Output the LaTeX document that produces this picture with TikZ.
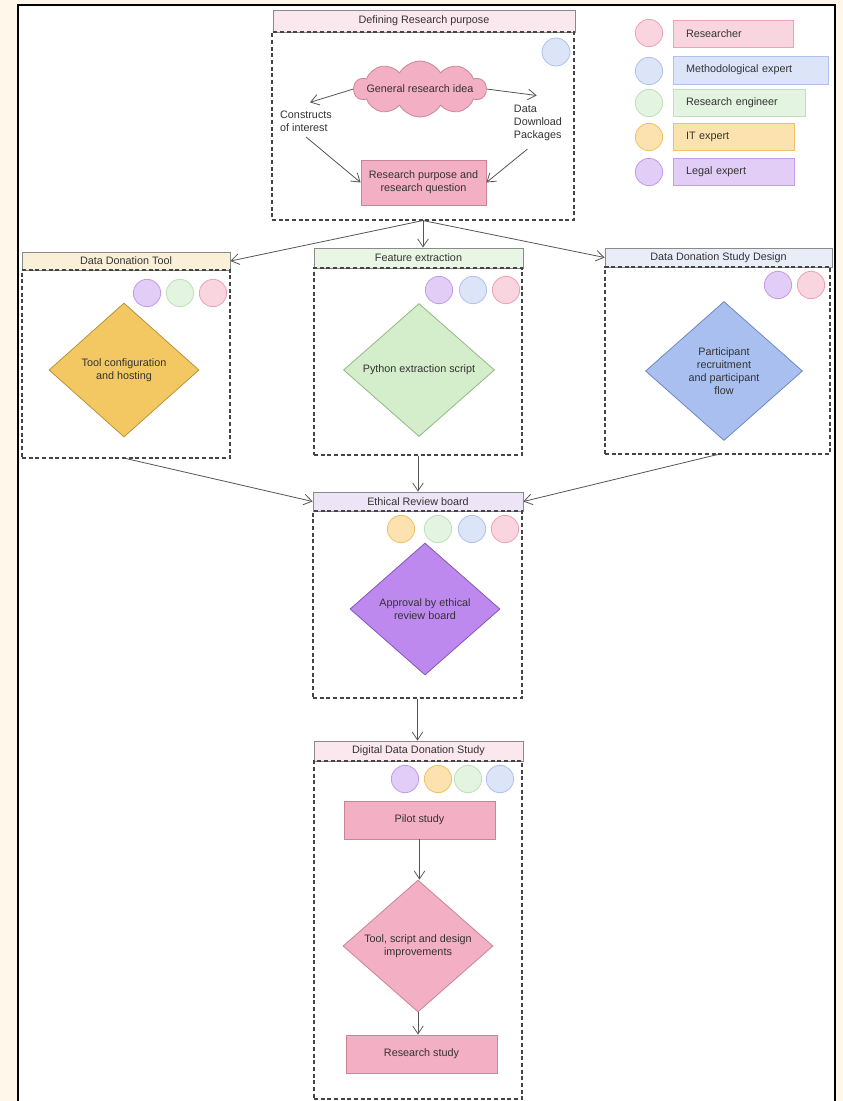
\documentclass[tikz,border=0pt]{standalone}
\usepackage{fontspec}
\setmainfont{Liberation Sans}
\usetikzlibrary{shapes.geometric,shapes.symbols,arrows.meta}
\definecolor{cream}{HTML}{FFF8EA}
\definecolor{txt}{HTML}{333333}
\definecolor{lnk}{HTML}{555555}
\definecolor{dashc}{HTML}{444444}
\definecolor{tborder}{HTML}{8A8A8A}
% role colours
\definecolor{rpinkF}{HTML}{F9D5DF}\definecolor{rpinkD}{HTML}{EDA2B7}
\definecolor{rblueF}{HTML}{DCE4F8}\definecolor{rblueD}{HTML}{AFC2EE}
\definecolor{rgreenF}{HTML}{E3F4E1}\definecolor{rgreenD}{HTML}{BDE2B9}
\definecolor{rorangeF}{HTML}{FBE2AF}\definecolor{rorangeD}{HTML}{EEC266}
\definecolor{rpurpleF}{HTML}{E2CDF6}\definecolor{rpurpleD}{HTML}{C59CEA}
% title fills
\definecolor{tpink}{HTML}{FBE7EE}
\definecolor{ttan}{HTML}{FAF0D8}
\definecolor{tgreen}{HTML}{E9F5E5}
\definecolor{tblue}{HTML}{E8EDF8}
\definecolor{tpurple}{HTML}{EEE4F8}
% main shapes
\definecolor{mpink}{HTML}{F3AFC3}\definecolor{mpinkD}{HTML}{C98597}
\definecolor{mgold}{HTML}{F3C862}\definecolor{mgoldD}{HTML}{B89339}
\definecolor{mgreen}{HTML}{D4EDCB}\definecolor{mgreenD}{HTML}{8FBC80}
\definecolor{mblue}{HTML}{A9BFF0}\definecolor{mblueD}{HTML}{6F88C2}
\definecolor{mpurple}{HTML}{BE89EE}\definecolor{mpurpleD}{HTML}{8457B5}
\tikzset{
  sz/.style 2 args={minimum width={#1*0.75pt},minimum height={#2*0.75pt}},
  every node/.style={font=\fontsize{8.1}{9.8}\selectfont, text=txt},
  titlebox/.style={draw=tborder, line width=0.6pt, inner sep=0pt, rectangle},
  panel/.style={draw=dashc, line width=0.8pt, dash pattern=on 3pt off 2pt, inner sep=0pt, rectangle},
  role/.style={circle, draw=#1D, fill=#1F, line width=0.6pt, minimum size=20.5pt, inner sep=0pt},
  legbox/.style={rectangle, draw=#1D, fill=#1F, line width=0.6pt, align=left, inner xsep=9.75pt, inner ysep=0pt},
  dia/.style={diamond, draw=#1D, fill=#1, line width=0.6pt, inner sep=0pt, align=center},
  pbox/.style={rectangle, draw=mpinkD, fill=mpink, line width=0.6pt, inner sep=0pt, align=center},
  link/.style={draw=lnk, line width=0.6pt, -{Straight Barb[length=6pt,width=8pt]}},
}
\begin{document}
\begin{tikzpicture}[x=0.75pt,y=-0.75pt]
\useasboundingbox (0,0) rectangle (843,1101);
\fill[cream] (0,0) rectangle (843,1101);
\begin{scope}
\clip (0,0) rectangle (843,1101);
\draw[fill=white, line width=1.5pt] (17.5,4.5) rectangle (835,1120);
\end{scope}

% ---------- Defining research purpose ----------
\node[titlebox, fill=tpink, sz={302}{22}] (deftitle) at (424,21) {Defining Research purpose};
\node[panel, sz={302}{188}] (defbox) at (423,126) {};
\node[role=rblue, minimum size=21pt] (defblue) at (556,52) {};
\node[cloud, cloud puffs=10, cloud puff arc=120, cloud ignores aspect, draw=mpinkD, fill=mpink, line width=0.6pt, inner sep=0pt, minimum width=99pt, minimum height=42pt,
  label={[text=txt]center:General research idea}] (idea) at (420,89) {};
\node[align=left, inner sep=0pt] (cons) at (306,121) {Constructs\\of interest};
\node[align=left, inner sep=0pt] (ddp) at (538,123) {Data\\Download\\Packages};
\node[pbox, sz={125}{45}] (rp) at (423.5,182.5) {Research purpose and\\research question};
\draw[link] (idea.west) -- ([xshift=3pt,yshift=6pt]cons.north);
\draw[link] (idea.east) -- ([xshift=-1pt,yshift=7pt]ddp.north);
\draw[link] ([yshift=-4pt]cons.south) -- (rp.west);
\draw[link] ([xshift=-8pt,yshift=-6pt]ddp.south) -- (rp.east);

% ---------- Legend ----------
\node[role=rpink] (l1c) at (649,33) {};
\node[role=rblue] (l2c) at (649,71) {};
\node[role=rgreen] (l3c) at (649,103) {};
\node[role=rorange] (l4c) at (649,137) {};
\node[role=rpurple] (l5c) at (649,172) {};
\node[legbox=rpink, text width={94*0.75pt}, minimum height={27*0.75pt}] (l1) at (733,33.5) {Researcher};
\node[legbox=rblue, text width={129*0.75pt}, minimum height={28*0.75pt}] (l2) at (750.5,70) {Methodological expert};
\node[legbox=rgreen, text width={106*0.75pt}, minimum height={27*0.75pt}] (l3) at (739,102.5) {Research engineer};
\node[legbox=rorange, text width={95*0.75pt}, minimum height={27*0.75pt}] (l4) at (733.5,136.5) {IT expert};
\node[legbox=rpurple, text width={95*0.75pt}, minimum height={27*0.75pt}] (l5) at (733.5,171.5) {Legal expert};

% ---------- Data Donation Tool ----------
\node[titlebox, fill=ttan, sz={208}{18}] (ddttitle) at (126,261) {Data Donation Tool};
\node[panel, sz={208}{188}] (ddtbox) at (126,364) {};
\node[role=rpurple] (ddtc1) at (147,293) {};
\node[role=rgreen] (ddtc2) at (180,293) {};
\node[role=rpink] (ddtc3) at (213,293) {};
\node[dia=mgold, sz={150}{134}] (tool) at (124,370) {Tool configuration\\and hosting};

% ---------- Feature extraction ----------
\node[titlebox, fill=tgreen, sz={209}{20}] (fetitle) at (418.5,258) {Feature extraction};
\node[panel, sz={208}{187}] (febox) at (418,361.5) {};
\node[role=rpurple] (fec1) at (439,290) {};
\node[role=rblue] (fec2) at (473,290) {};
\node[role=rpink] (fec3) at (506,290) {};
\node[dia=mgreen, sz={151}{133}] (py) at (419,370) {Python extraction script};

% ---------- Data Donation Study Design ----------
\node[titlebox, fill=tblue, sz={227}{19}] (sdtitle) at (718.5,257.5) {Data Donation Study Design};
\node[panel, sz={225}{187}] (sdbox) at (717.5,360.5) {};
\node[role=rpurple] (sdc1) at (778,285) {};
\node[role=rpink] (sdc2) at (811,285) {};
\node[dia=mblue, sz={157}{139}] (part) at (724,371) {Participant\\recruitment\\and participant\\flow};

% ---------- Ethical Review board ----------
\node[titlebox, fill=tpurple, sz={210}{19}] (ettitle) at (418,501.5) {Ethical Review board};
\node[panel, sz={209}{187}] (etbox) at (417.5,604.5) {};
\node[role=rorange] (etc1) at (401,529) {};
\node[role=rgreen] (etc2) at (438,529) {};
\node[role=rblue] (etc3) at (472,529) {};
\node[role=rpink] (etc4) at (505,529) {};
\node[dia=mpurple, sz={150}{132}] (appr) at (425,609) {Approval by ethical\\review board};

% ---------- Digital Data Donation Study ----------
\node[titlebox, fill=tpink, sz={209}{20}] (dgtitle) at (418.5,751) {Digital Data Donation Study};
\node[panel, sz={208}{338}] (dgbox) at (418,930) {};
\node[role=rpurple] (dgc1) at (405,779) {};
\node[role=rorange] (dgc2) at (438,779) {};
\node[role=rgreen] (dgc3) at (468,779) {};
\node[role=rblue] (dgc4) at (500,779) {};
\node[pbox, sz={151}{38}] (pilot) at (419.5,820) {Pilot study};
\node[dia=mpink, draw=mpinkD, sz={150}{132}] (impr) at (418,946) {Tool, script and design\\improvements};
\node[pbox, sz={151}{38}] (rs) at (421.5,1054) {Research study};

% ---------- connectors ----------
\draw[link] (defbox.south) -- (ddttitle.east);
\draw[link] (defbox.south) -- (defbox.south |- fetitle.north);
\draw[link] (defbox.south) -- (sdtitle.west);
\draw[link] (ddtbox.south) -- (ettitle.west);
\draw[link] (febox.south) -- (febox.south |- ettitle.north);
\draw[link] (sdbox.south) -- (ettitle.east);
\draw[link] (etbox.south) -- (etbox.south |- dgtitle.north);
\draw[link] (pilot.south) -- (pilot.south |- impr.north);
\draw[link] (impr.south) -- (impr.south |- rs.north);
\end{tikzpicture}
\end{document}
